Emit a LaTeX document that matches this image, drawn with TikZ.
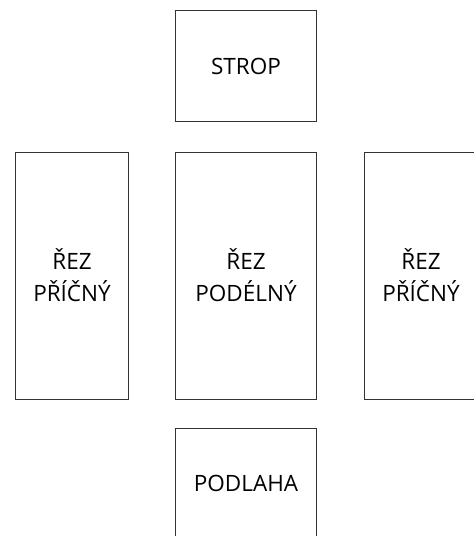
\documentclass[tikz,border=0pt]{standalone}
\usepackage{fontspec}
\setmainfont{Open Sans}
\tikzset{panel/.style={draw=black!80, line width=0.9pt, align=center, inner sep=0pt,
  font=\fontsize{22.5}{32}\selectfont}}

\begin{document}
\begin{tikzpicture}[x=1pt,y=-1pt]
\useasboundingbox (0,0) rectangle (474,536);
\clip (0,0) rectangle (474,536);
\node[panel, minimum width=141pt, minimum height=111pt] (strop) at (246, 66) {STROP}; % top
\node[panel, minimum width=113pt, minimum height=247pt] (levy) at (72, 275.5) {ŘEZ\\PŘÍČNÝ};
\node[panel, minimum width=141pt, minimum height=247pt] (podelny) at (246, 275.5) {ŘEZ\\PODÉLNÝ};
\node[panel, minimum width=113pt, minimum height=247pt] (pravy) at (421, 275.5) {ŘEZ\\PŘÍČNÝ};
\node[panel, minimum width=141pt, minimum height=111pt] (podlaha) at (246, 483.5) {PODLAHA}; % bottom
\end{tikzpicture}
\end{document}
